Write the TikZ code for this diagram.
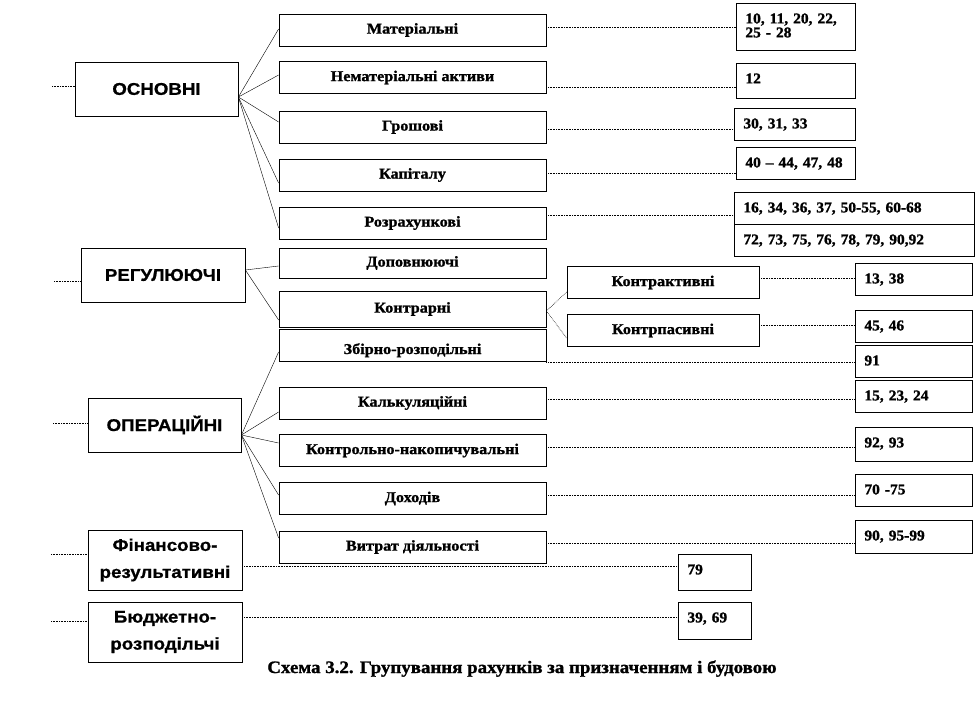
\documentclass[tikz,border=0pt]{standalone}
\usepackage{fontspec}
\newfontfamily\tnr[FakeStretch=1.08, BoldFeatures={FakeBold=1.2}]{Liberation Serif}
\newfontfamily\tnrn[FakeStretch=1.03, BoldFeatures={FakeBold=1.2}]{Liberation Serif}
\newfontfamily\arl[FakeStretch=1.1, BoldFeatures={FakeBold=0.8}]{Liberation Sans}

\begin{document}
\begin{tikzpicture}[
  x=1pt, y=-1pt,
  grp/.style={draw, line width=0.8pt, inner sep=0pt, minimum height=54pt,
    align=center, font=\arl\bfseries\fontsize{17}{27}\selectfont},
  kind/.style={draw, line width=0.8pt, inner sep=0pt, minimum width=267pt,
    minimum height=32pt, font=\tnr\bfseries\fontsize{15}{15}\selectfont},
  numbox/.style 2 args={draw, line width=0.8pt, anchor=north west,
    inner xsep=9pt, inner ysep=0pt, text width=#1, text height=20pt,
    text depth=#2, align=left, font=\tnrn\bfseries\fontsize{15}{14}\selectfont},
  link/.style={densely dotted, line width=0.6pt},
  fan/.style={line width=0.4pt},
]
  \useasboundingbox (0,0) rectangle (977,701);

  \node[grp, minimum width=163pt] (osn) at (156.5,89) {ОСНОВНІ};
  \node[grp, minimum width=164pt] (reg) at (163,275) {РЕГУЛЮЮЧІ};
  \node[grp, minimum width=153pt] (oper) at (164.5,425) {ОПЕРАЦІЙНІ};
  \node[grp, minimum width=154pt, minimum height=60pt] (fin) at (165,560) {Фінансово-\\результативні};
  \node[grp, minimum width=154pt, minimum height=60pt] (bud) at (165,632) {Бюджетно-\\розподільчі};

  \node[kind] (mat) at (412.5,30) {Матеріальні};
  \node[kind] (nemat) at (412.5,77.5) {Нематеріальні активи};
  \node[kind] (gros) at (412.5,127) {Грошові};
  \node[kind] (kap) at (412.5,175) {Капіталу};
  \node[kind] (rozr) at (412.5,223) {Розрахункові};
  \node[kind, minimum height=30pt] (dop) at (412.5,263) {Доповнюючі};
  \node[kind, minimum height=36pt] (kontr) at (412.5,309) {Контрарні};
  \node[kind, minimum width=192pt] (kakt) at (663,282.5) {Контрактивні};
  \node[kind, minimum width=192pt] (kpas) at (663,330.5) {Контрпасивні};
  \node[kind, text height=21pt, text depth=4pt] (zbir) at (412.5,345.5) {Збірно-розподільні};
  \node[kind] (kalk) at (412.5,403) {Калькуляційні};
  \node[kind] (nakop) at (412.5,450.5) {Контрольно-накопичувальні};
  \node[kind] (doh) at (412.5,498.5) {Доходів};
  \node[kind] (vytr) at (412.5,547) {Витрат діяльності};

  \node[numbox={101pt}{27pt}] (n1) at (736,3) {10, 11, 20, 22,\\25 - 28};
  \node[numbox={101pt}{15pt}] (n2) at (736,63) {12};
  \node[numbox={103pt}{12pt}] (n3) at (734,108) {30, 31, 33};
  \node[numbox={101pt}{12pt}] (n4) at (736,147) {40 – 44, 47, 48};
  \node[numbox={222pt}{12pt}] (n5a) at (734,192) {16, 34, 36, 37, 50-55, 60-68};
  \node[numbox={222pt}{12pt}] (n5b) at (734,224) {72, 73, 75, 76, 78, 79, 90,92};
  \node[numbox={99pt}{12pt}] (n6) at (855,263) {13, 38};
  \node[numbox={99pt}{12pt}] (n7) at (855,310) {45, 46};
  \node[numbox={99pt}{12pt}] (n8) at (855,345) {91};
  \node[numbox={99pt}{12pt}] (n9) at (855,380) {15, 23, 24};
  \node[numbox={99pt}{14pt}] (n10) at (855,427) {92, 93};
  \node[numbox={99pt}{12pt}] (n11) at (855,474) {70 -75};
  \node[numbox={99pt}{13pt}] (n12) at (855,520) {90, 95-99};
  \node[numbox={55pt}{16pt}] (n13) at (678,554) {79};
  \node[numbox={55pt}{17pt}] (n14) at (678,602) {39, 69};

  \node[font=\tnr\bfseries\fontsize{17.5}{17.5}\selectfont, anchor=base] (title) at (522,673)
    {Схема 3.2. Групування рахунків за призначенням і будовою};

  \foreach \g/\x/\y in {osn/52/86, reg/54/281, oper/53/423, fin/51/554, bud/51/621} {
    \coordinate (\g-in) at (\x,\y);
    \draw[link] (\g-in) -- (\g.west |- \g-in);
  }
  \foreach \a/\b/\y in {mat/n1/27, nemat/n2/87, gros/n3/129, kap/n4/173, rozr/n5a/215,
      kakt/n6/278, kpas/n7/325, zbir/n8/362, kalk/n9/399, nakop/n10/447,
      doh/n11/495, vytr/n12/543, fin/n13/566, bud/n14/617}
    \draw[link] (\a.east |- 0,\y) -- (\b.west |- 0,\y);

  \foreach \c/\y in {mat/29, nemat/75, gros/122, kap/183, rozr/228}
    \draw[fan] ([yshift=-8pt]osn.east) -- (\c.west |- 0,\y);
  \foreach \c/\y in {dop/266, kontr/320}
    \draw[fan] ([yshift=5pt]reg.east) -- (\c.west |- 0,\y);
  \foreach \c/\y in {kakt/292, kpas/338}
    \draw[link] ([yshift=-2pt]kontr.east) -- (\c.west |- 0,\y);
  \foreach \c/\y in {zbir/352, kalk/412, nakop/443, doh/495, vytr/538}
    \draw[fan] ([yshift=-10pt]oper.east) -- (\c.west |- 0,\y);
\end{tikzpicture}
\end{document}
